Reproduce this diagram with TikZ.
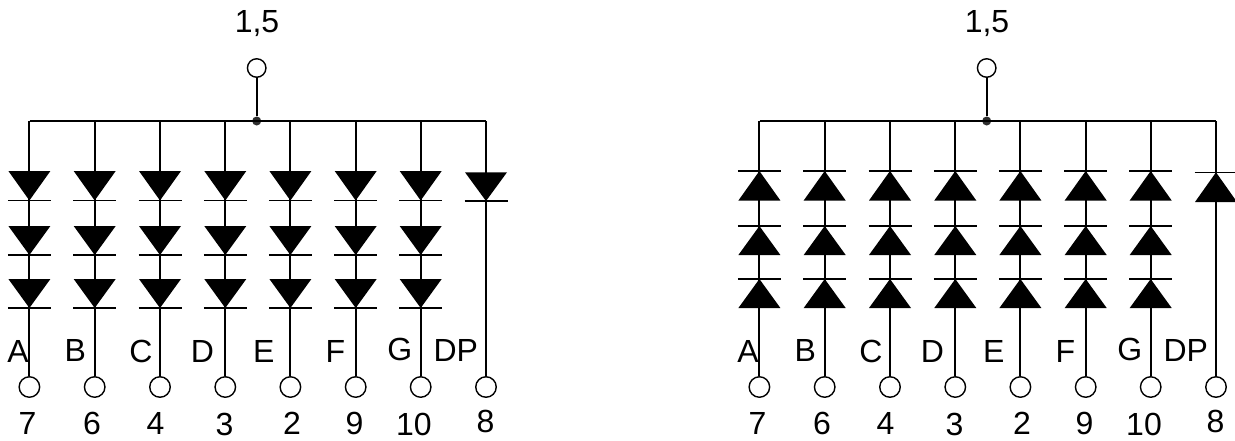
\documentclass[tikz,border=0pt]{standalone}
\usepackage{fontspec}
\setmainfont{Liberation Sans}
\tikzset{
  wire/.style={line width=1.9pt,black},
  pin/.style={circle,draw=black,fill=white,line width=1.4pt,minimum size=20.5pt,inner sep=0pt},
  toppin/.style={pin,minimum size=18.5pt},
  junction/.style={circle,fill=black!82,draw=none,minimum size=9pt,inner sep=0pt},
  lbl/.style={anchor=base,inner sep=0pt,yshift=0.5pt,font=\fontsize{32}{38}\selectfont},
  diodebody/.style={fill=black,draw=none},
  diodebar/.style={line width=1.3pt,black}
}
% #1 prefix, #2 x offset, #3 1 for down-pointing, 0 for up-pointing
\newcommand{\ledbank}[3]{%
  \begin{scope}[xshift=#2pt]
    \coordinate (#1busL) at (29.5,121);
    \coordinate (#1busR) at (486,121);
    \node[junction] (#1J) at (256.7,121) {};
    \node[toppin] (#1T) at (256.7,68) {};
    \node[lbl] (#1Ttxt) at (257,33) {1,5};
    \draw[wire] (#1T) -- (#1J);
    \draw[wire] (#1busL) -- (#1busR);
    \foreach \k/\x/\n/\lx/\ly/\t/\px/\py in {
      1/29.4/A/18/363/7/27.5/435,
      2/94.7/B/75.3/362/6/92/435,
      3/160/C/141/363/4/155.5/435,
      4/225.3/D/202.5/363/3/224.5/436,
      5/290.4/E/263.7/363/2/292/435,
      6/355.7/F/335.5/362.5/9/354.5/435,
      7/420.7/G/399.7/361/10/414/436,
      8/486/DP/455.8/362/8/485.5/433}{
      \coordinate (#1top\k) at (\x,121);
      \node[pin] (#1pin\k) at (\x,387) {};
      \node[lbl] (#1name\k) at (\lx,\ly) {\n};
      \node[lbl] (#1num\k) at (\px,\py) {\t};
      \draw[wire] (#1top\k) -- (#1pin\k);
      \ifnum\k<8
        \foreach \ya/\yb in {171/200.5,226/255,279/308}{
          \ifnum#3=1
            \fill[diodebody] (\x-21,\ya) -- (\x+21,\ya) -- (\x,\yb) -- cycle;
            \draw[diodebar] (\x-21.5,\yb) -- (\x+21.5,\yb);
          \else
            \fill[diodebody] (\x-21,\yb) -- (\x+21,\yb) -- (\x,\ya) -- cycle;
            \draw[diodebar] (\x-21.5,\ya) -- (\x+21.5,\ya);
          \fi
        }
      \else
        \ifnum#3=1
          \fill[diodebody] (\x-21,172.3) -- (\x+21,172.3) -- (\x,201) -- cycle;
          \draw[diodebar] (\x-21.5,201) -- (\x+21.5,201);
        \else
          \fill[diodebody] (\x-21,202) -- (\x+21,202) -- (\x,172.3) -- cycle;
          \draw[diodebar] (\x-21.5,172.3) -- (\x+21.5,172.3);
        \fi
      \fi
    }
  \end{scope}%
}
\begin{document}
\begin{tikzpicture}[x=1pt,y=-1pt]
  \useasboundingbox (0,0) rectangle (1235,440);
  \fill[white] (0,0) rectangle (1235,440);
  \ledbank{L}{0}{1}
  \ledbank{R}{730}{0}
\end{tikzpicture}
\end{document}
